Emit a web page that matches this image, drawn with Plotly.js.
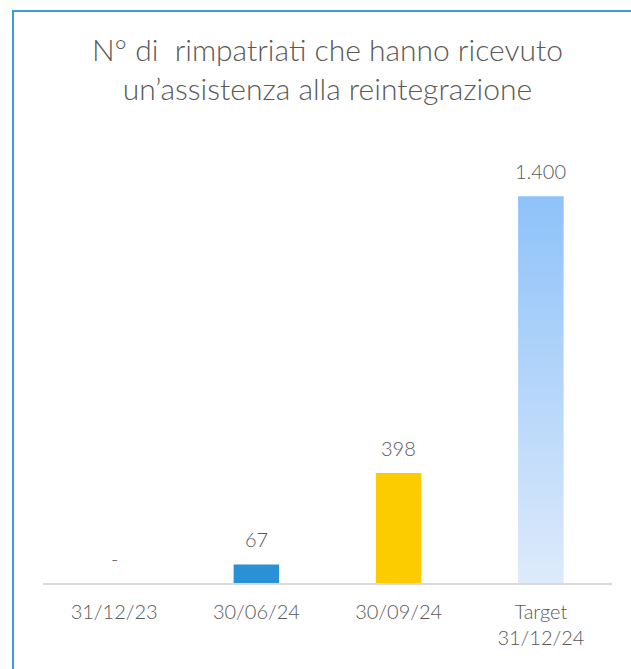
<!DOCTYPE html>
<html>
<head>
<meta charset="utf-8">
<script src="https://cdn.plot.ly/plotly-3.0.1.min.js"></script>
<style>
  body { margin: 0; background: #fff; }
  #frame {
    position: absolute; left: 12px; top: 10px;
    border-left: 2px solid #3C9BDB; border-top: 2px solid #3C9BDB;
  }
  #chart { width: 617px; height: 657px; }
</style>
</head>
<body>
<div id="frame"><div id="chart"></div></div>
<script>
// data
const categories = ['31/12/23', '30/06/24', '30/09/24', 'Target<br>31/12/24'];
const values = [0, 67, 398, 1400];
const barColors = ['#2B91D6', '#2B91D6', '#FCCC00', 'rgba(0,0,0,0)'];

// italian number format: "-" for zero, dot as thousands separator
function fmt(v) {
    if (v === 0) return '-';
    return String(v).replace(/\B(?=(\d{3})+(?!\d))/g, '.');
}

const idx = categories.map((_, i) => i);
const barW = 0.32;
const grey = '#595959';

let bars = {
    type: 'bar',
    x: idx,
    y: values,
    width: barW,
    marker: { color: barColors },
    hoverinfo: 'skip'
};

// the target bar gets a vertical gradient, drawn as a filled polygon
const t = values.length - 1;
let target = {
    type: 'scatter',
    mode: 'none',
    x: [t - barW / 2, t + barW / 2, t + barW / 2, t - barW / 2],
    y: [0, 0, values[t], values[t]],
    fill: 'toself',
    fillgradient: {
        type: 'vertical',
        colorscale: [[0, '#DDEAFB'], [1, '#8EC2F9']]
    },
    hoverinfo: 'skip'
};

let labels = values.map((v, i) => ({
    x: i, y: v, text: fmt(v),
    showarrow: false, yanchor: 'middle', yshift: 25,
    font: { size: 20, color: grey, weight: 300 }
}));

let layout = {
    width: 617, height: 657,
    margin: { l: 29, r: 19, t: 129, b: 86 },
    paper_bgcolor: '#fff', plot_bgcolor: '#fff',
    font: { family: 'Lato, sans-serif', color: grey, weight: 300 },
    showlegend: false,
    title: {
        text: 'N° di  rimpatriati che hanno ricevuto<br>un’assistenza alla reintegrazione',
        font: { size: 30, color: grey, family: 'Lato, sans-serif', weight: 300 },
        x: 0.508, xanchor: 'center',
        y: 0.926, yanchor: 'middle', yref: 'container'
    },
    xaxis: {
        range: [-0.5, 3.5],
        tickvals: idx, ticktext: categories,
        ticks: '', showgrid: false, zeroline: false,
        showline: true, linecolor: '#D9D9D9', linewidth: 2,
        tickfont: { size: 20, color: grey, weight: 300 },
        ticklabelstandoff: 10,
        fixedrange: true
    },
    yaxis: {
        range: [0, 1600],
        visible: false, showgrid: false, zeroline: false,
        fixedrange: true
    },
    annotations: labels
};

Plotly.newPlot('chart', [bars, target], layout, { displayModeBar: false, staticPlot: true });
</script>
</body>
</html>
